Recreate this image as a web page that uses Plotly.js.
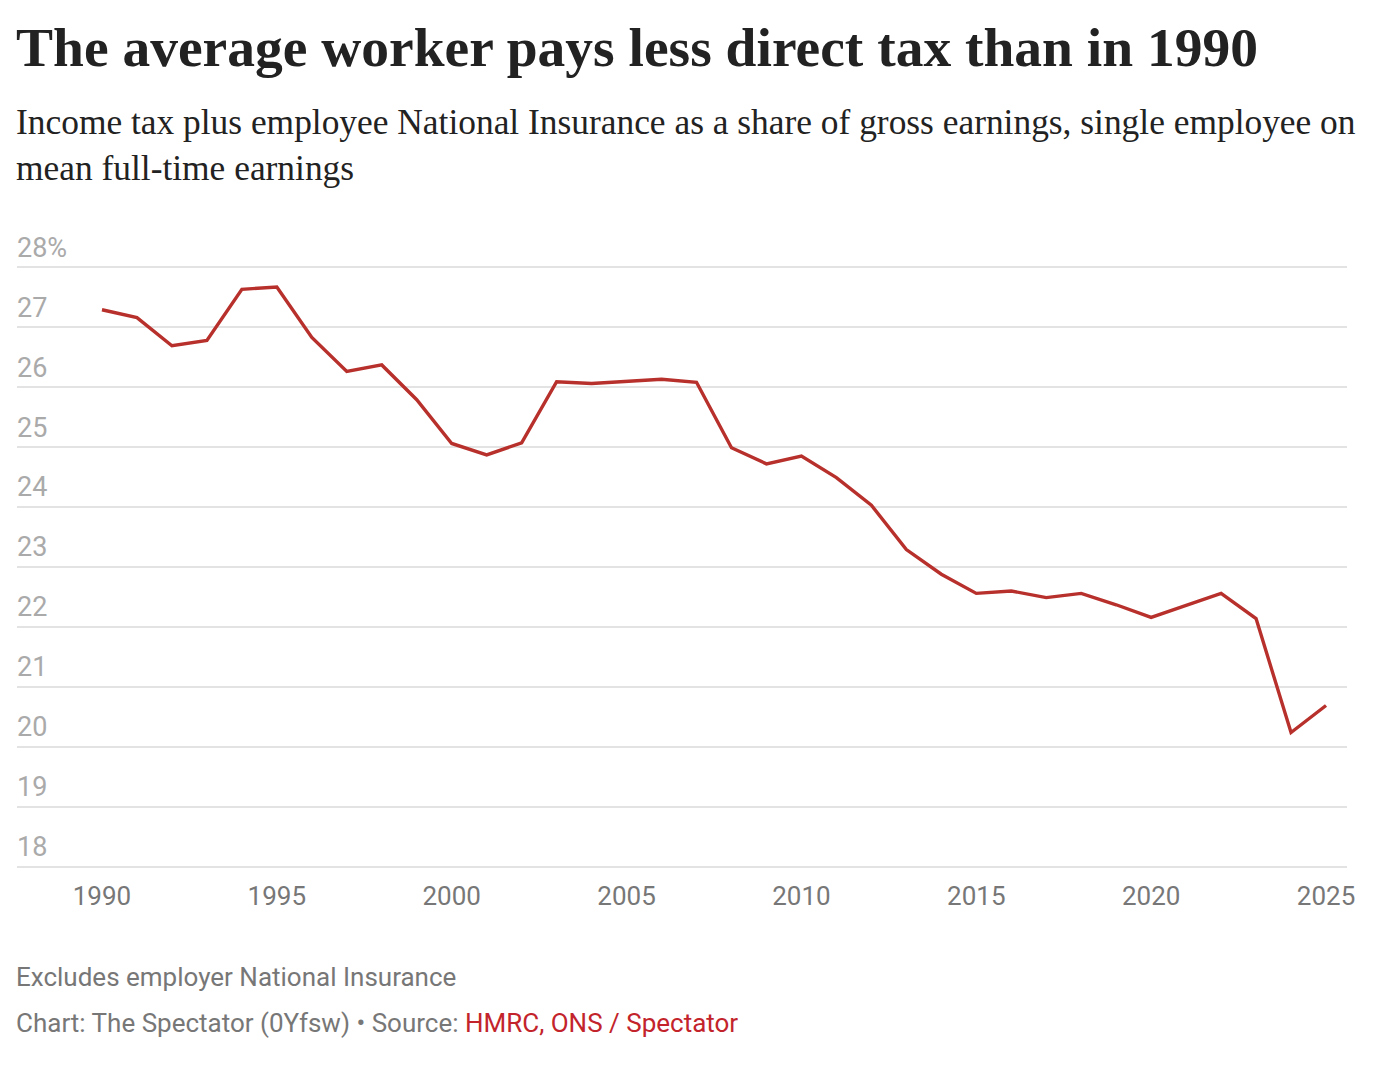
<!DOCTYPE html>
<html>
<head>
<meta charset="utf-8">
<script src="https://cdn.plot.ly/plotly-3.0.1.min.js"></script>
<style>
  body { margin: 0; background: #fff; }
  #chart { width: 1400px; height: 1070px; }
</style>
</head>
<body>
<div id="chart"></div>
<script>
// data (% of gross earnings)
var years = [1990, 1991, 1992, 1993, 1994, 1995, 1996, 1997, 1998, 1999,
             2000, 2001, 2002, 2003, 2004, 2005, 2006, 2007, 2008, 2009,
             2010, 2011, 2012, 2013, 2014, 2015, 2016, 2017, 2018, 2019,
             2020, 2021, 2022, 2023, 2024, 2025];
var taxShare = [27.29, 27.16, 26.69, 26.78, 27.63, 27.67, 26.83, 26.26, 26.37, 25.79,
                25.06, 24.87, 25.07, 26.09, 26.06, 26.09, 26.13, 26.08, 24.99, 24.72,
                24.85, 24.49, 24.03, 23.29, 22.88, 22.56, 22.60, 22.49, 22.56, 22.37,
                22.16, 22.36, 22.56, 22.14, 20.24, 20.69];

var xTicks = [1990, 1995, 2000, 2005, 2010, 2015, 2020, 2025];
var yTicks = [18, 19, 20, 21, 22, 23, 24, 25, 26, 27, 28];
var yTickText = ['18', '19', '20', '21', '22', '23', '24', '25', '26', '27', '28%'];

var W = 1400, H = 1070;
var margin = {l: 17, r: 53, t: 266, b: 202};

// pixel row -> paper y, for the text blocks above and below the plot
function py(pix) {
  var plotH = H - margin.t - margin.b;
  return (H - margin.b - pix) / plotH;
}

var trace = {
  x: years,
  y: taxShare,
  type: 'scatter',
  mode: 'lines',
  line: {color: '#b8302b', width: 3.4},
  hoverinfo: 'skip'
};

var layout = {
  width: W,
  height: H,
  margin: margin,
  paper_bgcolor: '#fff',
  plot_bgcolor: '#fff',
  showlegend: false,
  title: {
    text: '<b>The average worker pays less direct tax than in 1990</b>',
    xref: 'container', yref: 'container',
    x: 16 / W, xanchor: 'left',
    y: 1 - 47 / H, yanchor: 'middle',
    font: {family: 'Liberation Serif, serif', size: 55.5, color: '#222'}
  },
  xaxis: {
    range: [1987.57, 2025.6],
    tickvals: xTicks,
    showgrid: false,
    zeroline: false,
    showline: false,
    ticks: '',
    ticklabelstandoff: 10,
    tickfont: {family: 'Roboto, sans-serif', size: 26, color: '#777'}
  },
  yaxis: {
    range: [17.98, 28.02],
    tickvals: yTicks,
    ticktext: yTickText,
    showgrid: true,
    gridcolor: '#e3e3e3',
    gridwidth: 1.6,
    zeroline: false,
    showline: false,
    ticks: '',
    ticklabelposition: 'inside',
    ticklabeloverflow: 'allow',
    ticklabelshift: -20,
    ticklabelstandoff: -3,
    tickfont: {family: 'Roboto, sans-serif', size: 27, color: '#aaa'}
  },
  annotations: [
    {
      text: 'Income tax plus employee National Insurance as a share of gross earnings, single employee on<br>mean full-time earnings',
      xref: 'paper', yref: 'paper', x: 0, y: py(100), xshift: -3,
      xanchor: 'left', yanchor: 'top', align: 'left',
      showarrow: false,
      font: {family: 'Liberation Serif, serif', size: 35.4, color: '#222'}
    },
    {
      text: 'Excludes employer National Insurance',
      xref: 'paper', yref: 'paper', x: 0, y: py(977), xshift: -3,
      xanchor: 'left', yanchor: 'middle', align: 'left',
      showarrow: false,
      font: {family: 'Roboto, sans-serif', size: 26, color: '#777'}
    },
    {
      text: 'Chart: The Spectator (0Yfsw) • Source: <span style="color:#c3242b">HMRC, ONS / Spectator</span>',
      xref: 'paper', yref: 'paper', x: 0, y: py(1023), xshift: -3,
      xanchor: 'left', yanchor: 'middle', align: 'left',
      showarrow: false,
      font: {family: 'Roboto, sans-serif', size: 26, color: '#777'}
    }
  ]
};

Plotly.newPlot('chart', [trace], layout, {displayModeBar: false, staticPlot: true});
</script>
</body>
</html>
